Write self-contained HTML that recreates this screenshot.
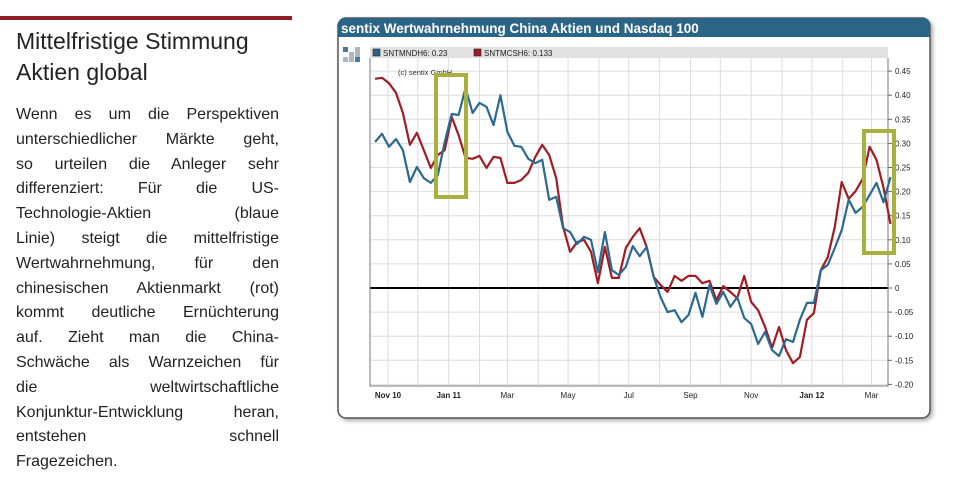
<!DOCTYPE html>
<html><head><meta charset="utf-8"><style>
body{margin:0;width:970px;height:502px;background:#fff;position:relative;overflow:hidden;font-family:"Liberation Sans",sans-serif}
#bar{position:absolute;left:0;top:16px;width:292px;height:4px;background:#8e1c24}
#h{position:absolute;left:16px;top:26px;width:270px;font-size:23px;line-height:31px;color:#222}
#p{position:absolute;left:16px;top:103px;width:263px;font-size:16px;line-height:24.8px;color:#222}
#p div{text-align:justify;text-align-last:justify;white-space:nowrap}
#p div.last{text-align-last:left}
svg{position:absolute;left:0;top:0}
</style></head><body>
<div id="bar"></div>
<div id="h">Mittelfristige Stimmung Aktien global</div>
<div id="p">
<div>Wenn es um die Perspektiven</div>
<div>unterschiedlicher Märkte geht,</div>
<div>so urteilen die Anleger sehr</div>
<div>differenziert: Für die US-</div>
<div>Technologie-Aktien &nbsp; &nbsp; (blaue</div>
<div>Linie) steigt die mittelfristige</div>
<div>Wertwahrnehmung, für den</div>
<div>chinesischen Aktienmarkt (rot)</div>
<div>kommt deutliche Ernüchterung</div>
<div>auf. Zieht man die China-</div>
<div>Schwäche als Warnzeichen für</div>
<div>die &nbsp; &nbsp; &nbsp; weltwirtschaftliche</div>
<div>Konjunktur-Entwicklung heran,</div>
<div>entstehen &nbsp; &nbsp; &nbsp; &nbsp; schnell</div>
<div class="last">Fragezeichen.</div>
</div>
<svg id="chart" width="970" height="502">
<defs><filter id="sh" x="-5%" y="-5%" width="110%" height="110%"><feDropShadow dx="2" dy="2" stdDeviation="2" flood-color="#000" flood-opacity="0.35"/></filter></defs>
<rect x="338" y="18" width="592" height="400" rx="8" fill="#fff" stroke="#555" stroke-width="1.5" filter="url(#sh)"/>
<path d="M338,37 L338,26 Q338,18 346,18 L922,18 Q930,18 930,26 L930,37 Z" fill="#2a6486"/>
<text x="341" y="33" font-size="13.5" font-weight="bold" fill="#fff">sentix Wertwahrnehmung China Aktien und Nasdaq 100</text>
<g>
<rect x="343" y="47" width="5" height="5" fill="#4a7a99"/><rect x="355" y="47" width="5" height="5" fill="#aab8c2"/>
<rect x="349" y="52" width="5" height="5" fill="#aab8c2"/><rect x="355" y="52" width="5" height="5" fill="#aab8c2"/>
<rect x="343" y="57" width="5" height="5" fill="#aab8c2"/><rect x="349" y="57" width="5" height="5" fill="#aab8c2"/><rect x="355" y="57" width="5" height="5" fill="#4a7a99"/>
</g>
<rect x="370" y="47" width="518" height="11" fill="#e2e2e2"/>
<g><rect x="373" y="49" width="7" height="7" fill="#2a6486" stroke="#222" stroke-width="0.6"/><text x="383" y="56" font-size="8" fill="#222">SNTMNDH6: 0.23</text></g>
<g><rect x="474" y="49" width="7" height="7" fill="#a01c24" stroke="#222" stroke-width="0.6"/><text x="484" y="56" font-size="8" fill="#222">SNTMCSH6: 0.133</text></g>
<g id="grid"></g>
<g id="series"></g>
<text x="398" y="75" font-size="7.5" fill="#333">(c) sentix GmbH</text>
<rect x="436" y="75" width="30" height="122" fill="none" stroke="#a9b03e" stroke-width="4"/>
<rect x="864" y="131" width="30" height="122" fill="none" stroke="#a9b03e" stroke-width="4"/>
</svg>
<script>
const blueValues=[0.303,0.320,0.293,0.309,0.286,0.220,0.251,0.228,0.218,0.234,0.303,0.361,0.359,0.415,0.363,0.384,0.376,0.338,0.400,0.324,0.295,0.293,0.268,0.259,0.266,0.183,0.189,0.124,0.116,0.091,0.106,0.100,0.033,0.116,0.037,0.027,0.044,
0.087,0.066,0.085,0.023,-0.019,-0.050,-0.046,-0.071,-0.056,-0.010,-0.060,0.006,-0.033,-0.008,-0.039,-0.019,-0.062,-0.075,-0.116,-0.091,-0.129,-0.141,-0.106,-0.112,-0.066,-0.031,-0.031,0.037,0.048,0.083,0.120,0.183,0.156,0.168,0.193,0.218,0.178,0.230];
const redValues=[0.434,0.436,0.425,0.405,0.363,0.297,0.322,0.286,0.249,0.276,0.286,0.355,0.317,0.270,0.268,0.274,0.249,0.272,0.270,0.218,0.218,0.224,0.239,0.272,0.297,0.276,0.228,0.127,0.075,0.095,0.100,0.075,0.010,0.085,0.021,0.021,0.083,
0.106,0.124,0.085,0.023,0.006,-0.008,0.025,0.015,0.025,0.025,0.010,0.015,-0.025,0.004,-0.008,-0.021,0.025,-0.029,-0.046,-0.081,-0.124,-0.081,-0.129,-0.156,-0.143,-0.066,-0.052,0.037,0.064,0.127,0.220,0.185,0.201,0.226,0.293,0.266,0.208,0.133];
const yTicks=[0.45,0.40,0.35,0.30,0.25,0.20,0.15,0.10,0.05,0,-0.05,-0.10,-0.15,-0.20];
const xTickLabels=["Nov 10","Jan 11","Mar","May","Jul","Sep","Nov","Jan 12","Mar"];
const xTickDays=[0,61,120,181,242,304,365,426,486];
const xTickBold=[true,true,false,false,false,false,false,true,false];
const monthDays=[-31,0,30,61,92,120,151,181,212,242,273,304,334,365,396,426,457,486,517];
const startDay=-13, weekStep=7;
const NS="http://www.w3.org/2000/svg";
const X0=370,X1=888,Yt=58,Yb=386;
function xDay(d){return 388+d*0.995;}
function xIdx(i){return xDay(startDay+i*weekStep);}
function yVal(v){return 288-v*482;}
function mk(tag,attrs,parent){const e=document.createElementNS(NS,tag);for(const k in attrs)e.setAttribute(k,attrs[k]);parent.appendChild(e);return e;}
const grid=document.getElementById('grid'),series=document.getElementById('series');
monthDays.forEach(d=>{const x=xDay(d);if(x<X0||x>X1)return;
 const l=mk('line',{x1:x,x2:x,y1:Yt,y2:Yb,stroke:'#dcdcdc','stroke-width':1},grid);
 
 });
yTicks.forEach(v=>{const y=yVal(v);
 const l=mk('line',{x1:X0,x2:X1,y1:y,y2:y,stroke:v===0?'#000':'#dcdcdc','stroke-width':v===0?2:1},grid);
 
 
 const t=mk('line',{x1:X1,x2:X1+4,y1:y,y2:y,stroke:'#666'},grid);
 
 
 const tx=mk('text',{x:X1+7,y:y+3,'font-size':8,fill:'#222'},grid);tx.textContent=v===0?'0':v.toFixed(2);
 
 });
const ax=mk('path',{d:`M${X0},${Yt} L${X0},${Yb} L${X1},${Yb} L${X1},${Yt}`,fill:'none',stroke:'#777','stroke-width':1},grid);


xTickLabels.forEach((s,i)=>{const x=xDay(xTickDays[i]);
 const t=mk('text',{x:x,y:398,'font-size':8,'text-anchor':'middle',fill:'#222','font-weight':xTickBold[i]?'bold':'normal'},grid);t.textContent=s;
 
 });
function line(vals,color,name){const d=vals.map((v,i)=>(i?'L':'M')+xIdx(i).toFixed(1)+','+yVal(v).toFixed(1)).join(' ');
 const p=mk('path',{d:d,fill:'none',stroke:color,'stroke-width':2.2,'stroke-linejoin':'round'},series);
 
 }
line(redValues,'#a01c24','china-series-line');
line(blueValues,'#2a6a8e','nasdaq-series-line');
</script>
</body></html>
